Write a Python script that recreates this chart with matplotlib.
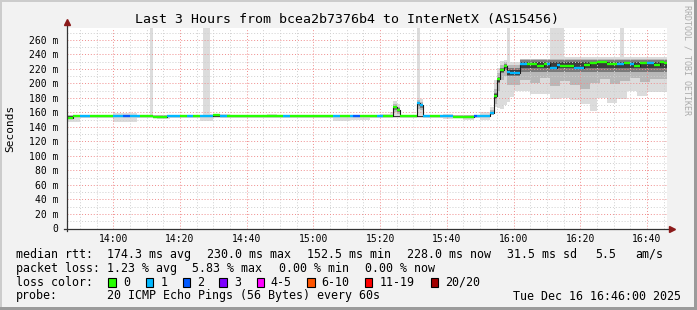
import numpy as np
import pandas as pd
import matplotlib
matplotlib.use("Agg")
import matplotlib.pyplot as plt
import matplotlib.dates as mdates
from matplotlib.ticker import MultipleLocator, FuncFormatter
from matplotlib.patches import Rectangle

plt.rcParams["font.family"] = ["DejaVu Sans Mono"]

# one bin per minute, 13:46 -> 16:46
edges = pd.date_range("2025-12-16 13:46", periods=181, freq="min")

# median rtt in ms, one value per minute
median = ([152.5] * 2 + [154.5] * 12 + [155.0] * 8 + [154.5] * 4 + [153.5] * 4
          + [154.5] * 14 + [156.0] * 2 + [154.5] * 52 + [167.0, 164.0]
          + [154.5] * 5 + [173.0, 170.0] + [154.5] * 9 + [154.0] * 6 + [154.5] * 5
          + [159.5, 182.5, 205.5, 218.5, 224.0, 216.5] + [214.0] * 3 + [227.0] * 5
          + [224.0] * 2 + [227.0] * 2 + [221.0] * 2 + [226.0] + [224.0] * 4
          + [222.0] * 3 + [225.0] * 2 + [228.5] * 2 + [229.5, 230.0, 229.5]
          + [227.5] * 3 + [227.0] * 2 + [228.5] * 2 + [227.0] + [224.0] * 2
          + [228.0] * 4 + [225.5] * 2 + [230.0, 228.0])

# lost pings per minute (out of 20)
loss = ([0] * 4 + [1] * 3 + [0] * 7 + [1] * 3 + [2] * 2 + [1] * 3 + [0] * 8
        + [1] * 4 + [0] * 2 + [1] * 2 + [0] * 2 + [1] * 4 + [0] * 2 + [1] * 2
        + [0] * 17 + [1] * 2 + [0] * 13 + [1] * 2 + [0] * 3 + [1] + [2] * 2
        + [0] * 5 + [1] * 2 + [0] * 10 + [1] * 4 + [0] * 3 + [1] * 4 + [0] * 6
        + [2] + [1] * 5 + [0] * 4 + [1] * 6 + [0] * 6 + [1] * 4 + [0] * 4
        + [1] * 3 + [0] * 10 + [1] * 2 + [0] * 2 + [1] + [0] * 4 + [1] * 2 + [0] * 4)

# smoke: min / max ping per minute
smoke_lo = ([147.5] * 4 + [153.0] * 10 + [146.5] * 7 + [153.0] * 6 + [150.5] * 4
            + [153.0] * 9 + [148.5] * 4 + [153.0] * 36 + [148.0] * 5 + [149.5] * 6
            + [152.5] * 6 + [152.0] * 4 + [153.0] * 12 + [151.0] * 3 + [152.5] * 3
            + [150.0] * 3 + [153.0] * 2 + [150.0] * 3
            + [156, 168, 166, 165, 170, 175, 182] + [190] * 5 + [185] * 6 + [178] * 3
            + [180] * 3 + [177] * 3 + [172] * 3 + [162] * 2 + [180] * 3 + [173] * 3
            + [178] * 3 + [190] * 3 + [183] * 3 + [188] * 6)
smoke_hi = ([156.5] * 14 + [159.0] * 7 + [156.5] * 4 + [300] + [157.0] * 15
            + [300] * 2 + [158.0] * 3 + [158.5] * 3 + [156.5] * 11 + [158.5] * 3
            + [156.5] * 31 + [158.0] * 3 + [160.0, 176.0, 172.0] + [157.0] * 5
            + [300, 178.0] + [157.0] * 6 + [157.5] * 3 + [156.5] * 8 + [160.0] * 3
            + [168, 205, 222, 231, 232, 300] + [229] * 3 + [231] * 9 + [300] * 4
            + [236] * 17 + [300] + [236] * 13)

# inner smoke bands
mid_lo = ([153.5] * 98 + [160, 158] + [153.5] * 5 + [165, 163] + [153.5] * 20
          + [157, 172, 190, 205, 210] + [198] * 4 + [205] * 3 + [200] * 3
          + [207] * 3 + [196] * 3 + [203] * 3 + [198] * 3 + [193] * 3 + [200] * 3
          + [206] * 3 + [199] * 3 + [204] * 3 + [208] * 3 + [202] * 3 + [206] * 5)
mid_hi = ([156.0] * 98 + [172, 168] + [156.0] * 5 + [177, 174] + [156.0] * 20
          + [163, 192, 214, 226, 229] + [225] * 4 + [234] * 44)
dark_lo = ([154.0] * 98 + [164, 161] + [154.0] * 5 + [169, 166] + [154.0] * 20
           + [158, 178, 200, 214, 219] + [210] * 4 + [216] * 44)
dark_hi = ([155.5] * 98 + [169, 166] + [155.5] * 5 + [175, 172] + [155.5] * 20
           + [161, 187, 209, 222, 227] + [222] * 4 + [232] * 44)
core_lo = ([154.0] * 127 + [158, 180, 202, 216, 221] + [212] * 4 + [221] * 44)
core_hi = ([155.5] * 127 + [160, 185, 207, 220, 226] + [218] * 4 + [229] * 44)

loss_colors = ["#26ff00", "#00b8ff", "#0059ff", "#7e00ff", "#ff00ff",
               "#ff5500", "#ff0000", "#a10000"]
loss_labels = ["0", "1", "2", "3", "4-5", "6-10", "11-19", "20/20"]

W, H = 697, 310
fig = plt.figure(figsize=(W / 100, H / 100), dpi=100)
fig.patch.set_facecolor("#f2f2f2")

ax = fig.add_axes([66.5 / W, (H - 228.5) / H, 600.5 / W, 200.5 / H])
ax.set_facecolor("white")

x = mdates.date2num(edges)


def ext(a):
    return np.append(a, a[-1])


ax.fill_between(x, ext(smoke_lo), ext(smoke_hi), step="post", color="#dcdcdc", lw=0, zorder=1)
ax.fill_between(x, ext(mid_lo), ext(mid_hi), step="post", color="#b8b8b8", lw=0, zorder=1)
ax.fill_between(x, ext(dark_lo), ext(dark_hi), step="post", color="#7a7a7a", lw=0, zorder=1)
ax.fill_between(x, ext(core_lo), ext(core_hi), step="post", color="#3c3c3c", lw=0, zorder=1)

ax.step(x, ext(median), where="post", color="#1a1a1a", lw=0.8, zorder=3)
ax.hlines(median, x[:-1], x[1:], colors=[loss_colors[l] for l in loss], lw=1.7, zorder=4)

ax.xaxis_date()
ax.set_xlim(x[0], x[-1])
ax.set_ylim(0, 276.5)
ax.xaxis.set_major_locator(mdates.MinuteLocator(byminute=[0, 20, 40]))
ax.xaxis.set_minor_locator(mdates.MinuteLocator(byminute=range(0, 60, 5)))
ax.xaxis.set_major_formatter(mdates.DateFormatter("%H:%M"))
ax.yaxis.set_major_locator(MultipleLocator(20))
ax.yaxis.set_minor_locator(MultipleLocator(10))
ax.yaxis.set_major_formatter(FuncFormatter(lambda v, p: "0" if v == 0 else f"{int(v)} m"))

ax.grid(which="minor", color="#cfcfcf", ls=(0, (1, 2)), lw=0.7)
ax.grid(which="major", color="#f08c8c", ls=(0, (1, 2)), lw=0.7)
ax.set_axisbelow(False)
ax.tick_params(which="both", length=0, labelsize=7, colors="black")
ax.tick_params(axis="x", pad=4)
ax.tick_params(axis="y", pad=6)
for s in ax.spines.values():
    s.set_visible(False)

# overlay in pixel coordinates for frame, axes arrows and legend
ov = fig.add_axes([0, 0, 1, 1], zorder=5)
ov.set_xlim(0, W)
ov.set_ylim(H, 0)
ov.axis("off")
ov.patch.set_alpha(0)

ov.add_patch(Rectangle((0, 0), W, 2, color="#cccccc", lw=0))
ov.add_patch(Rectangle((0, 0), 2, H, color="#cccccc", lw=0))
ov.add_patch(Rectangle((0, H - 3), W, 3, color="#9b9b9b", lw=0))
ov.add_patch(Rectangle((W - 3, 0), 3, H, color="#9b9b9b", lw=0))

ov.plot([66.7, 66.7], [231, 22], color="#333333", lw=0.9)
ov.plot([64, 670], [228.6, 228.6], color="#333333", lw=0.9)
ov.plot([66.7], [21.5], marker="^", color="#8b1a1a", ms=4.5)
ov.plot([672], [228.6], marker=">", color="#8b1a1a", ms=4.5)

ov.text(347, 19, "Last 3 Hours from bcea2b7376b4 to InterNetX (AS15456)",
        ha="center", va="center", fontsize=9.5)
ov.text(10, 128, "Seconds", rotation=90, ha="center", va="center", fontsize=8)
ov.text(687, 5, "RRDTOOL / TOBI OETIKER", rotation=270, ha="center", va="top",
        fontsize=6, color="#ababab")

fs = 8.4
rows = [
    (254.3, [(16, "median rtt:"), (107.3, "174.3 ms avg"), (207.3, "230.0 ms max"),
             (307, "152.5 ms min"), (407.3, "228.0 ms now"), (506.7, "31.5 ms sd"),
             (595, "5.5"), (635, "am/s")]),
    (268.3, [(16, "packet loss:"), (107.3, "1.23 % avg"), (192, "5.83 % max"),
             (279.3, "0.00 % min"), (365, "0.00 % now")]),
    (282.3, [(16, "loss color:")]),
    (296.0, [(16, "probe:"), (107.3, "20 ICMP Echo Pings (56 Bytes) every 60s"),
             (513.3, "Tue Dec 16 16:46:00 2025")]),
]
for y, chunks in rows:
    for xx, s in chunks:
        ov.text(xx, y, s, ha="left", va="center", fontsize=fs)

box_x = [108.3, 145.7, 182.7, 219.3, 256.7, 307.3, 365, 430.7]
label_x = [123.3, 160.7, 197.3, 234.3, 270.7, 321.7, 380, 445]
for bx, lx, c, lab in zip(box_x, label_x, loss_colors, loss_labels):
    ov.add_patch(Rectangle((bx, 277.8), 7.4, 8.8, facecolor=c, edgecolor="black", lw=0.8))
    ov.text(lx, 282.3, lab, ha="left", va="center", fontsize=fs)

fig.savefig("out.png", dpi=100, facecolor=fig.get_facecolor())
